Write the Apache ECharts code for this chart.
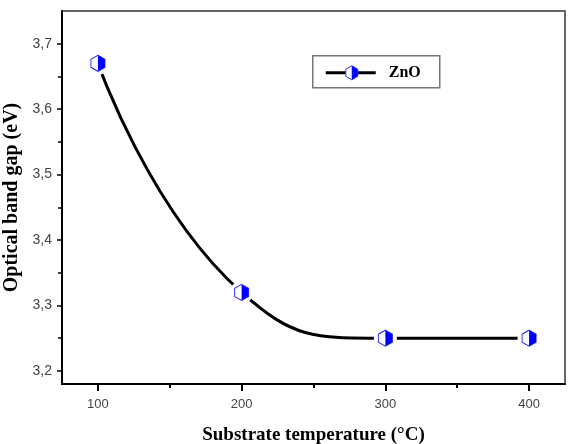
<!DOCTYPE html>
<html>
<head>
<meta charset="utf-8">
<script src="https://cdn.jsdelivr.net/npm/echarts@6/dist/echarts.min.js"></script>
<style>
  html, body { margin: 0; padding: 0; background: #fff; }
  #chart { width: 572px; height: 444px; }
</style>
</head>
<body>
<div id="chart"></div>
<script>
// data
const temperatures = [100, 200, 300, 400];
const bandGap = [3.67, 3.32, 3.25, 3.25];
const xMajorTicks = [100, 200, 300, 400];
const xMinorTicks = [150, 250, 350];
const yMajorTicks = [3.2, 3.3, 3.4, 3.5, 3.6, 3.7];
const yMinorTicks = [3.25, 3.35, 3.45, 3.55, 3.65];
const seriesName = 'ZnO';

const points = temperatures.map((t, i) => [t, bandGap[i]]);

// hexagon, pointy top
const hexPath = 'path://M8.66 0 L17.32 5 L17.32 15 L8.66 20 L0 15 L0 5 Z';
const halfHexPath = 'path://M0 0 L8.66 5 L8.66 15 L0 20 Z';

const fontSans = '"Liberation Sans", Arial, sans-serif';
const fontSerif = '"Liberation Serif", "Times New Roman", serif';

const xRange = { min: 75, max: 425 };
const yRange = { min: 3.18, max: 3.75 };

let option = {
  animation: false,
  backgroundColor: '#fff',
  grid: {
    left: 62, right: 7, top: 11, bottom: 60,
    outerBoundsMode: 'none',
    containLabel: false,
    show: true,
    borderColor: '#666',
    borderWidth: 2
  },
  xAxis: [
    {
      type: 'value',
      min: xRange.min, max: xRange.max,
      name: 'Substrate temperature (°C)',
      nameLocation: 'middle',
      nameGap: 42,
      nameTextStyle: { fontFamily: fontSerif, fontWeight: 'bold', fontSize: 19, color: '#000' },
      axisLine: { lineStyle: { color: '#000', width: 2 } },
      axisTick: { customValues: xMajorTicks, length: 7, lineStyle: { color: '#000', width: 2 } },
      axisLabel: { customValues: xMajorTicks, margin: 14, fontFamily: fontSans, fontSize: 13, color: '#444' },
      splitLine: { show: false }
    },
    {
      type: 'value',
      min: xRange.min, max: xRange.max,
      position: 'bottom',
      offset: 0,
      axisLine: { show: false },
      axisTick: { customValues: xMinorTicks, length: 4, lineStyle: { color: '#000', width: 2 } },
      axisLabel: { show: false },
      splitLine: { show: false }
    }
  ],
  yAxis: [
    {
      type: 'value',
      min: yRange.min, max: yRange.max,
      name: 'Optical band gap (eV)',
      nameLocation: 'middle',
      nameGap: 38,
      nameTextStyle: { fontFamily: fontSerif, fontWeight: 'bold', fontSize: 20, color: '#000' },
      axisLine: { show: true, lineStyle: { color: '#000', width: 2 } },
      axisTick: { show: true, customValues: yMajorTicks, length: 5, lineStyle: { color: '#000', width: 1.5 } },
      axisLabel: {
        customValues: yMajorTicks, margin: 10,
        fontFamily: fontSans, fontSize: 14, color: '#444',
        formatter: v => v.toFixed(1).replace('.', ',')
      },
      splitLine: { show: false }
    },
    {
      type: 'value',
      min: yRange.min, max: yRange.max,
      position: 'left',
      offset: 0,
      axisLine: { show: false },
      axisTick: { show: true, customValues: yMinorTicks, length: 4, lineStyle: { color: '#000', width: 1.5 } },
      axisLabel: { show: false },
      splitLine: { show: false }
    }
  ],
  series: [
    {
      name: seriesName,
      type: 'line',
      data: points,
      smooth: 0.5,
      symbol: 'none',
      lineStyle: { color: '#000', width: 3 },
      z: 2
    },
    {
      // white gap round each marker
      type: 'scatter',
      data: points,
      symbol: 'circle',
      symbolSize: 23,
      itemStyle: { color: '#fff', opacity: 1 },
      silent: true,
      z: 3
    },
    {
      type: 'scatter',
      data: points,
      symbol: hexPath,
      symbolSize: [14, 16],
      itemStyle: { color: '#fff', borderColor: '#2a2aff', borderWidth: 1, opacity: 1 },
      z: 4
    },
    {
      type: 'scatter',
      data: points,
      symbol: halfHexPath,
      symbolSize: [7, 16],
      symbolOffset: [3.5, 0],
      itemStyle: { color: '#0000ff', opacity: 1 },
      z: 5
    }
  ],
  graphic: [
    {
      type: 'group',
      left: 312, top: 55,
      children: [
        { type: 'rect', shape: { x: 0, y: 0, width: 127, height: 32 }, style: { fill: '#fff', stroke: '#777', lineWidth: 1.5 } },
        { type: 'line', shape: { x1: 13, y1: 17, x2: 63, y2: 17 }, style: { stroke: '#000', lineWidth: 3 } },
        { type: 'polygon', shape: { points: [[39, 10], [45, 13.5], [45, 20.5], [39, 24], [33, 20.5], [33, 13.5]] }, style: { fill: '#fff', stroke: '#2a2aff', lineWidth: 1 } },
        { type: 'polygon', shape: { points: [[39, 10], [45, 13.5], [45, 20.5], [39, 24]] }, style: { fill: '#0000ff' } },
        { type: 'text', x: 76, y: 17, style: { text: seriesName, font: 'bold 16px ' + fontSerif, fill: '#000', verticalAlign: 'middle' } }
      ]
    }
  ]
};

const myChart = echarts.init(document.getElementById('chart'));
myChart.setOption(option);
</script>
</body>
</html>
